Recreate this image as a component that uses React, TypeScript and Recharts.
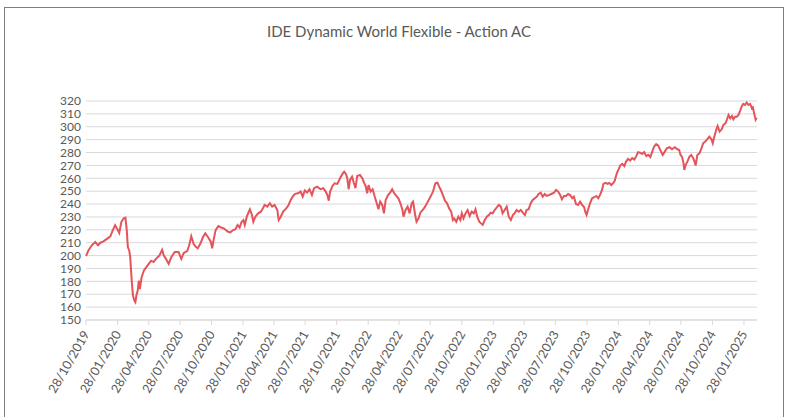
import { LineChart, Line, XAxis, YAxis, CartesianGrid } from "recharts";

const TITLE = "IDE Dynamic World Flexible - Action AC";

const X_TICK_LABELS = [
  "28/10/2019", "28/01/2020", "28/04/2020", "28/07/2020", "28/10/2020", "28/01/2021",
  "28/04/2021", "28/07/2021", "28/10/2021", "28/01/2022", "28/04/2022", "28/07/2022",
  "28/10/2022", "28/01/2023", "28/04/2023", "28/07/2023", "28/10/2023", "28/01/2024",
  "28/04/2024", "28/07/2024", "28/10/2024", "28/01/2025",
];
const AXIS_END = "2025-03-07";

const Y_TICKS = [150, 160, 170, 180, 190, 200, 210, 220, 230, 240, 250, 260, 270, 280, 290, 300, 310, 320];

// roughly weekly
const DATES = [
  "2019-10-28", "2019-11-04", "2019-11-14", "2019-11-24", "2019-12-02", "2019-12-09", "2019-12-18", "2019-12-28",
  "2020-01-07", "2020-01-14", "2020-01-21", "2020-01-29", "2020-02-02", "2020-02-08", "2020-02-15", "2020-02-20",
  "2020-02-24", "2020-02-27", "2020-03-02", "2020-03-05", "2020-03-08", "2020-03-10", "2020-03-13", "2020-03-17",
  "2020-03-20", "2020-03-23", "2020-03-27", "2020-03-30", "2020-04-02", "2020-04-07", "2020-04-14", "2020-04-21",
  "2020-04-28", "2020-05-05", "2020-05-12", "2020-05-19", "2020-05-29", "2020-06-06", "2020-06-11", "2020-06-17",
  "2020-06-25", "2020-07-03", "2020-07-13", "2020-07-24", "2020-08-01", "2020-08-08", "2020-08-18", "2020-08-24",
  "2020-08-30", "2020-09-06", "2020-09-13", "2020-09-18", "2020-09-26", "2020-10-03", "2020-10-10", "2020-10-18",
  "2020-10-26", "2020-10-30", "2020-11-03", "2020-11-09", "2020-11-17", "2020-11-25", "2020-12-04", "2020-12-14",
  "2020-12-22", "2020-12-30", "2021-01-06", "2021-01-12", "2021-01-18", "2021-01-24", "2021-01-29", "2021-02-02",
  "2021-02-08", "2021-02-14", "2021-02-17", "2021-02-23", "2021-02-27", "2021-03-05", "2021-03-13", "2021-03-21",
  "2021-03-27", "2021-04-01", "2021-04-09", "2021-04-16", "2021-04-23", "2021-04-30", "2021-05-08", "2021-05-12",
  "2021-05-18", "2021-05-25", "2021-06-03", "2021-06-10", "2021-06-16", "2021-06-23", "2021-06-29", "2021-07-07",
  "2021-07-15", "2021-07-21", "2021-07-27", "2021-08-03", "2021-08-10", "2021-08-17", "2021-08-23", "2021-09-01",
  "2021-09-11", "2021-09-19", "2021-09-26", "2021-10-01", "2021-10-05", "2021-10-09", "2021-10-16", "2021-10-22",
  "2021-10-30", "2021-11-07", "2021-11-14", "2021-11-19", "2021-11-24", "2021-11-28", "2021-12-02", "2021-12-06",
  "2021-12-12", "2021-12-17", "2021-12-22", "2021-12-27", "2022-01-04", "2022-01-11", "2022-01-16", "2022-01-21",
  "2022-01-25", "2022-01-29", "2022-02-04", "2022-02-10", "2022-02-16", "2022-02-22", "2022-02-27", "2022-03-04",
  "2022-03-10", "2022-03-15", "2022-03-20", "2022-03-27", "2022-04-02", "2022-04-08", "2022-04-14", "2022-04-20",
  "2022-04-26", "2022-05-02", "2022-05-08", "2022-05-11", "2022-05-17", "2022-05-23", "2022-05-29", "2022-06-04",
  "2022-06-08", "2022-06-14", "2022-06-18", "2022-06-24", "2022-06-29", "2022-07-06", "2022-07-13", "2022-07-21",
  "2022-07-29", "2022-08-05", "2022-08-12", "2022-08-18", "2022-08-23", "2022-08-28", "2022-09-03", "2022-09-09",
  "2022-09-15", "2022-09-21", "2022-09-27", "2022-10-02", "2022-10-06", "2022-10-12", "2022-10-18", "2022-10-24",
  "2022-10-28", "2022-11-02", "2022-11-08", "2022-11-14", "2022-11-20", "2022-11-26", "2022-12-02", "2022-12-07",
  "2022-12-12", "2022-12-18", "2022-12-23", "2022-12-28", "2023-01-03", "2023-01-09", "2023-01-15", "2023-01-20",
  "2023-01-26", "2023-02-01", "2023-02-07", "2023-02-13", "2023-02-19", "2023-02-24", "2023-03-02", "2023-03-08",
  "2023-03-14", "2023-03-20", "2023-03-26", "2023-03-31", "2023-04-06", "2023-04-12", "2023-04-18", "2023-04-24",
  "2023-04-30", "2023-05-05", "2023-05-11", "2023-05-17", "2023-05-23", "2023-05-29", "2023-06-04", "2023-06-09",
  "2023-06-15", "2023-06-21", "2023-06-27", "2023-07-03", "2023-07-09", "2023-07-16", "2023-07-24", "2023-07-30",
  "2023-08-05", "2023-08-11", "2023-08-16", "2023-08-22", "2023-08-28", "2023-09-03", "2023-09-09", "2023-09-15",
  "2023-09-20", "2023-09-26", "2023-10-02", "2023-10-08", "2023-10-14", "2023-10-20", "2023-10-23", "2023-10-27",
  "2023-10-31", "2023-11-06", "2023-11-12", "2023-11-18", "2023-11-24", "2023-11-30", "2023-12-05", "2023-12-11",
  "2023-12-15", "2023-12-21", "2023-12-27", "2024-01-01", "2024-01-07", "2024-01-13", "2024-01-17", "2024-01-21",
  "2024-01-25", "2024-01-29", "2024-02-02", "2024-02-08", "2024-02-14", "2024-02-19", "2024-02-25", "2024-03-02",
  "2024-03-08", "2024-03-14", "2024-03-20", "2024-03-25", "2024-03-31", "2024-04-06", "2024-04-12", "2024-04-18",
  "2024-04-24", "2024-04-30", "2024-05-05", "2024-05-11", "2024-05-17", "2024-05-23", "2024-05-28", "2024-06-05",
  "2024-06-11", "2024-06-17", "2024-06-25", "2024-07-02", "2024-07-10", "2024-07-18", "2024-07-23", "2024-07-27",
  "2024-07-31", "2024-08-04", "2024-08-07", "2024-08-11", "2024-08-16", "2024-08-22", "2024-08-27", "2024-09-02",
  "2024-09-06", "2024-09-09", "2024-09-14", "2024-09-20", "2024-09-26", "2024-10-01", "2024-10-07", "2024-10-13",
  "2024-10-19", "2024-10-25", "2024-10-29", "2024-11-02", "2024-11-08", "2024-11-12", "2024-11-18", "2024-11-24",
  "2024-11-29", "2024-12-05", "2024-12-09", "2024-12-14", "2024-12-19", "2024-12-24", "2024-12-28", "2025-01-02",
  "2025-01-07", "2025-01-12", "2025-01-17", "2025-01-22", "2025-01-26", "2025-01-31", "2025-02-05", "2025-02-10",
  "2025-02-15", "2025-02-20", "2025-02-23", "2025-02-27", "2025-03-03", "2025-03-06",
];

const VALUES = [
  199.5, 204, 208, 210.5, 208, 210, 211, 213,
  215, 219.6, 223.5, 219.6, 217.5, 226, 229, 229.5,
  219.6, 206.6, 204, 198.8, 186, 178, 169, 165,
  163.8, 169, 173, 180.6, 174, 183, 188.4, 191,
  193.6, 196, 195, 197.5, 200, 204.5, 200, 197.5,
  193.6, 199, 202.7, 202.7, 197.5, 202, 203.5, 208,
  215, 209, 206.6, 205.6, 209.5, 214.2, 217.3, 214.2,
  210.8, 205.6, 212, 219.8, 222.9, 221.8, 221, 218.7,
  218, 219.8, 220.5, 223.7, 221.8, 226.3, 227.6, 223.7,
  230.2, 234.1, 235.9, 231.5, 226.3, 230.2, 232.8, 234.1,
  236.7, 239.3, 238, 240.6, 238, 239.3, 235.4, 227.6,
  230.2, 234.1, 236.7, 239.3, 243.2, 246.3, 247.9, 248.4,
  249.7, 245.8, 250.5, 249, 251.5, 247, 252.3, 253.5,
  251.5, 252.3, 249.7, 247, 242.6, 249.7, 254.1, 256.1,
  255.6, 260, 263.4, 265.2, 263.4, 260, 251.5, 258.7,
  261.3, 256.6, 252.3, 261.8, 262.6, 260, 256.6, 253.5,
  248.4, 254.8, 249.7, 251.5, 245.8, 240.6, 235.9, 241.9,
  239.3, 232.8, 243.2, 247, 248.9, 251.5, 248.4, 246.3,
  244.5, 240.6, 235.4, 230.2, 235.4, 238, 232.8, 240.6,
  241.9, 231.5, 226.3, 228.9, 233.3, 235.4, 238, 241.9,
  245.8, 249.7, 256.1, 256.6, 253.5, 250.9, 247, 242.6,
  240.6, 236.7, 234.1, 227.6, 228.9, 226.3, 230.2, 227.6,
  232.8, 228.9, 232.8, 235.4, 230.7, 234.1, 232.8, 236,
  230.2, 226.3, 225, 223.8, 227.6, 230.2, 231.5, 233.3,
  232.8, 235.4, 237.5, 239.3, 238, 232.8, 235.4, 238,
  230.2, 227.6, 231.5, 232.8, 235.4, 234.1, 235.4, 233.3,
  231.5, 235.4, 236, 240.6, 243.2, 244.5, 245.8, 247.8,
  248.9, 245.8, 247.8, 246.3, 247, 247.8, 248.9, 251,
  249.7, 247, 243.7, 246.3, 246.3, 247.8, 247, 244.5,
  245.8, 240.1, 239.3, 241.9, 239.3, 237.5, 234.1, 231.5,
  235.4, 240.6, 244.5, 245.3, 246.3, 244.5, 247, 251,
  255.6, 256.4, 255.6, 256.4, 254.8, 256.4, 258.1, 262,
  265.2, 267.3, 269.9, 271.2, 269.4, 273, 275.1, 273.8,
  275.6, 274.5, 277.2, 280.3, 279.8, 279, 280.3, 277.2,
  278.3, 276.5, 280.3, 284.7, 286.5, 285.4, 282.5, 278.1,
  280.7, 283.3, 284.1, 282.5, 284.1, 282.5, 282, 278.1,
  276.8, 272.9, 266.5, 270.4, 272.9, 276.8, 278.1, 275.5,
  272.9, 269.9, 278.1, 279.4, 283.3, 287.2, 288.5, 290.4,
  292.4, 290.4, 287.2, 291.9, 297.5, 300.6, 296.2, 298,
  301.4, 302.7, 305.4, 309.2, 306.6, 308.4, 305.8, 307.8,
  307.8, 309.2, 312.5, 316.1, 317.7, 316.9, 318.8, 316.9,
  317.7, 314.3, 315, 310, 305.5, 307,
];

const toTime = (iso: string) => Date.parse(iso + "T00:00:00Z");
const labelToTime = (label: string) => {
  const [d, m, y] = label.split("/").map(Number);
  return Date.UTC(y, m - 1, d);
};

const data = DATES.map((d, i) => ({ t: toTime(d), value: VALUES[i] }));
const xTicks = X_TICK_LABELS.map(labelToTime);
const xDomain = [xTicks[0], toTime(AXIS_END)];

const TEXT = "#595959";
const GRID = "#d9d9d9";
const FONT = "Lato, 'Open Sans', sans-serif";

function DateTick({ x, y, payload }: any) {
  const idx = xTicks.indexOf(payload.value);
  const label = idx >= 0 ? X_TICK_LABELS[idx] : "";
  const tx = x + 4;
  const ty = y + 7;
  return (
    <text
      x={tx}
      y={ty}
      transform={`rotate(-60, ${tx}, ${ty})`}
      textAnchor="end"
      fontSize={12.5}
      fill={TEXT}
      fontFamily={FONT}
    >
      {label}
    </text>
  );
}

export default function App() {
  return (
    <div style={{ position: "relative", width: 791, height: 417, background: "#fff", overflow: "hidden" }}>
      <style>{`body{margin:0}`}</style>
      <div
        style={{
          position: "absolute",
          left: 4,
          top: 7,
          width: 780,
          height: 420,
          border: "1px solid #7f7f7f",
          boxSizing: "border-box",
        }}
      />
      <div
        style={{
          position: "absolute",
          left: 0,
          top: 22,
          width: 798,
          textAlign: "center",
          fontFamily: FONT,
          fontSize: 15,
          color: TEXT,
        }}
      >
        {TITLE}
      </div>
      <div style={{ position: "absolute", left: 0, top: 0 }}>
        <LineChart width={791} height={417} data={data} margin={{ top: 101, right: 34, bottom: 0, left: 0 }}>
          <CartesianGrid vertical={false} stroke={GRID} />
          <XAxis
            dataKey="t"
            type="number"
            scale="time"
            domain={xDomain}
            ticks={xTicks}
            interval={0}
            height={97}
            stroke={GRID}
            tickSize={5}
            tickMargin={2}
            tick={<DateTick />}
          />
          <YAxis
            domain={[150, 320]}
            ticks={Y_TICKS}
            interval={0}
            width={86}
            axisLine={false}
            tickLine={false}
            tickSize={0}
            tickMargin={5}
            tick={{ fontSize: 12, fill: TEXT, fontFamily: FONT }}
          />
          <Line
            type="linear"
            dataKey="value"
            stroke="#e5545a"
            strokeWidth={2}
            dot={false}
            isAnimationActive={false}
          />
        </LineChart>
      </div>
    </div>
  );
}
